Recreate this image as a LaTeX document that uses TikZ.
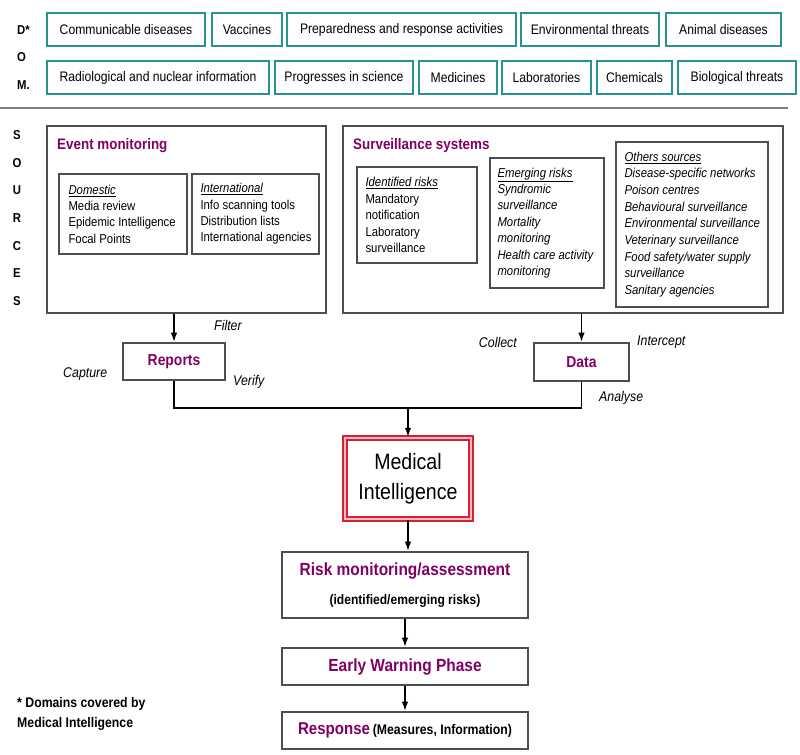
\documentclass[tikz,border=0pt]{standalone}
\usepackage{fontspec}
\setmainfont{Liberation Sans}[FakeStretch=0.88]
\usepackage{tikz}
\usetikzlibrary{fit,arrows.meta}

\definecolor{domteal}{RGB}{38,148,150}
\definecolor{mipurple}{RGB}{128,0,100}
\definecolor{mired}{RGB}{214,32,52}
\definecolor{boxgray}{RGB}{78,78,78}

\begin{document}
\begin{tikzpicture}[x=0.03cm, y=-0.03cm, >={Latex[length=8pt,width=5.5pt]},
  dombox/.style={draw=domteal, line width=2.1pt, inner sep=0pt},
  domtext/.style={inner sep=0pt, font=\fontsize{11.8}{14}\selectfont},
  bigbox/.style={draw=boxgray, line width=1.6pt, inner sep=0pt},
  subbox/.style={draw=boxgray, line width=1.2pt, inner sep=0pt},
  subtext/.style={anchor=west, align=left, inner sep=0pt, font=\fontsize{11}{14}\selectfont},
  boxtitle/.style={anchor=north west, inner sep=0pt, text=mipurple, font=\fontsize{13}{15}\selectfont\bfseries},
  flowbox/.style={draw=boxgray, line width=1.6pt, inner sep=0pt},
  flowtext/.style={inner sep=0pt, align=center, font=\bfseries},
  flowarrow/.style={->, line width=1.3pt},
  steplabel/.style={inner sep=0pt, font=\fontsize{12}{14}\selectfont\itshape},
  sideletter/.style={inner sep=0pt, font=\fontsize{11}{13}\selectfont\bfseries}]
  \useasboundingbox (0,0) rectangle (800,755);

  % domains
  \node[sideletter, anchor=west] (ld) at (17,30) {D*};
  \node[sideletter, anchor=west] (lo) at (17,57) {O};
  \node[sideletter, anchor=west] (lm) at (17,85) {M.};
  \foreach \a/\b/\nm/\txt in {47/205/cd/Communicable diseases, 212/282/vac/Vaccines,
      287/516/prep/Preparedness and response activities, 521/659/env/Environmental threats,
      666/781/anim/Animal diseases}
    \node[dombox, fit={(\a,13) (\b,46)}, label={[domtext]center:\txt}] (\nm) {};
  \foreach \a/\b/\nm/\txt in {47/269/rad/Radiological and nuclear information,
      275/413/sci/Progresses in science, 419/497/med/Medicines, 502/591/lab/Laboratories,
      597/672/chem/Chemicals, 678/796/bio/Biological threats}
    \node[dombox, fit={(\a,61) (\b,94)}, label={[domtext]center:\txt}] (\nm) {};
  \draw[gray, line width=1.6pt] (0,108) -- (788,108);

  % sources
  \foreach \c [count=\i from 0] in {S,O,U,R,C,E,S}
    \node[sideletter] (src\i) at (17,135+27.7*\i) {\c};

  \node[bigbox, fit={(47,126) (326,313)}] (ev) {};
  \node[boxtitle] (evt) at (57,138) {Event monitoring};
  \node[subbox, fit={(59,174) (187,254)}] (dom) {};
  \node[subtext] (domt) at ([xshift=10*0.03cm]dom.west)
    {\underline{\textit{Domestic}}\\Media review\\Epidemic Intelligence\\Focal Points};
  \node[subbox, fit={(192,174) (319,254)}] (intl) {};
  \node[subtext] (intlt) at ([xshift=9*0.03cm]intl.west)
    {\underline{\textit{International}}\\Info scanning tools\\Distribution lists\\International agencies};

  \node[bigbox, fit={(343,126) (783,313)}] (surv) {};
  \node[boxtitle] (survt) at (353,138) {Surveillance systems};
  \node[subbox, fit={(357,167) (477,263)}] (idr) {};
  \node[subtext] (idrt) at ([xshift=9*0.03cm]idr.west)
    {\underline{\textit{Identified risks}}\\Mandatory\\notification\\Laboratory\\surveillance};
  \node[subbox, fit={(490,158) (604,288)}] (emr) {};
  \node[subtext, font=\fontsize{11}{14}\selectfont\itshape] (emrt) at ([xshift=8*0.03cm]emr.west)
    {\underline{Emerging risks}\\Syndromic\\surveillance\\Mortality\\monitoring\\Health care activity\\monitoring};
  \node[subbox, fit={(616,142) (768,307)}] (oth) {};
  \node[subtext, font=\fontsize{11}{14.2}\selectfont\itshape] (otht) at ([xshift=9*0.03cm]oth.west)
    {\underline{Others sources}\\Disease-specific networks\\Poison centres\\Behavioural surveillance\\
     Environmental surveillance\\Veterinary surveillance\\Food safety/water supply\\surveillance\\Sanitary agencies};

  % reports and data
  \node[flowbox, fit={(123,343) (225,380)},
    label={[flowtext, text=mipurple, font=\fontsize{13.5}{16}\selectfont\bfseries]center:Reports}] (rep) {};
  \node[flowbox, fit={(534,343) (629,381)},
    label={[flowtext, text=mipurple, font=\fontsize{13.5}{16}\selectfont\bfseries]center:Data}] (data) {};
  \draw[flowarrow] (ev.south -| rep.north) -- (rep.north);
  \draw[flowarrow] (surv.south -| data.north) -- (data.north);
  \node[steplabel, anchor=west] (filt) at (214,325) {Filter};
  \node[steplabel, anchor=west] (capt) at (63,374) {Capture};
  \node[steplabel, anchor=west] (verif) at (233,382) {Verify};
  \node[steplabel, anchor=east] (coll) at (517,342) {Collect};
  \node[steplabel, anchor=west] (intc) at (637,342) {Intercept};
  \node[steplabel, anchor=west] (anal) at (599,398) {Analyse};

  % medical intelligence chain
  \node[draw=mired, line width=1.5pt, double=mired!30, double distance=1.8pt, inner sep=0pt,
    fit={(345,438) (471,519)},
    label={[flowtext, font=\fontsize{19}{25.5}\selectfont]center:{Medical\\Intelligence}}] (mi) {};
  \coordinate (mrg) at (408,408);
  \draw[line width=1.6pt] (rep.south) |- (mrg) -| (data.south);
  \draw[flowarrow] (mrg) -- (mi.north);

  \node[flowbox, fit={(282,552) (528,618)},
    label={[flowtext]center:{\textcolor{mipurple}{\fontsize{15}{18}\selectfont Risk monitoring/assessment}\\[13pt]
     {\fontsize{11.7}{14}\selectfont (identified/emerging risks)}}}] (risk) {};
  \node[flowbox, fit={(282,648) (528,685)},
    label={[flowtext, text=mipurple, font=\fontsize{15}{18}\selectfont\bfseries]center:Early Warning Phase}] (ew) {};
  \node[flowbox, fit={(282,712) (528,749)},
    label={[flowtext]center:{\textcolor{mipurple}{\fontsize{14.6}{17}\selectfont Response}
     {\fontsize{11.9}{14}\selectfont (Measures, Information)}}}] (resp) {};
  \draw[flowarrow] (mi.south) -- (mi.south |- risk.north);
  \draw[flowarrow] (risk.south) -- (ew.north);
  \draw[flowarrow] (ew.south) -- (resp.north);

  \node[anchor=west, align=left, inner sep=0pt, font=\fontsize{11.9}{17}\selectfont\bfseries] (note) at (17,714)
    {* Domains covered by\\Medical Intelligence};
\end{tikzpicture}
\end{document}
